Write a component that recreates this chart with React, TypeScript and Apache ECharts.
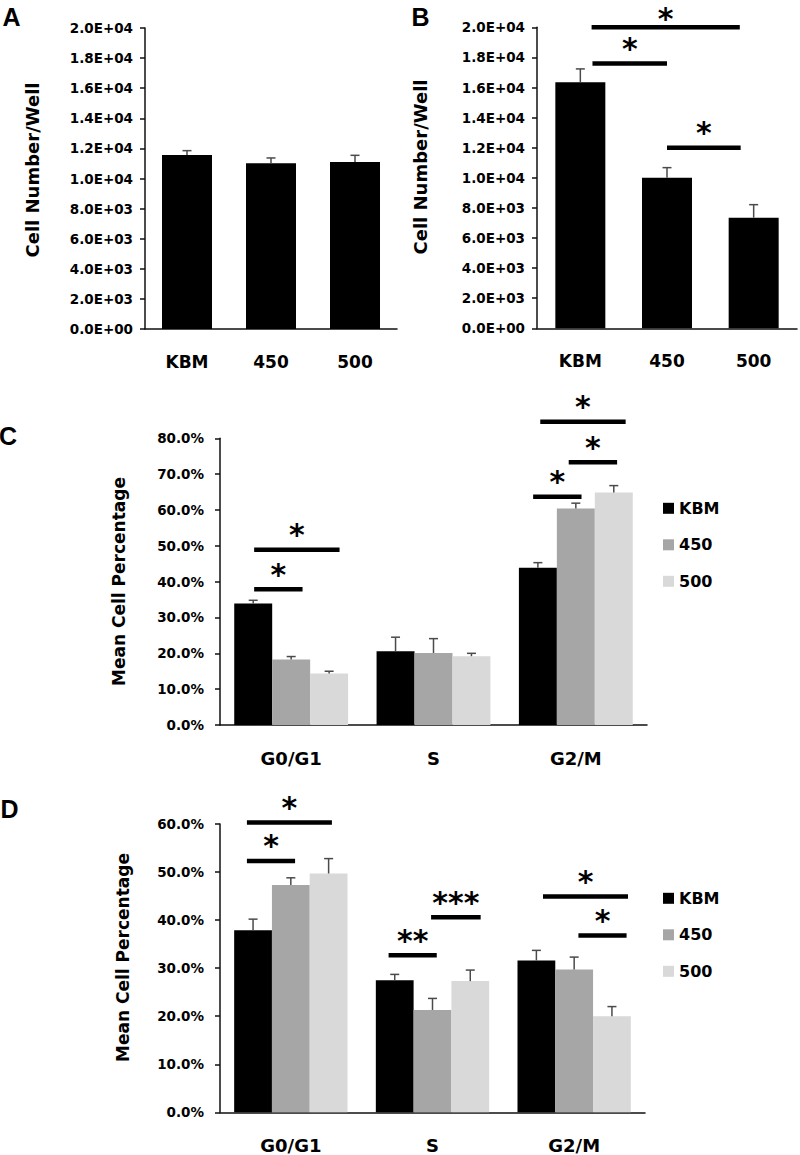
import React, { useEffect, useRef } from "react";
import * as echarts from "echarts";

// ---------- data ----------
const groupsAB = ["KBM", "450", "500"];
const phases = ["G0/G1", "S", "G2/M"];
const seriesNames = ["KBM", "450", "500"];
const barColors = ["#000000", "#a6a6a6", "#d9d9d9"];

const aValues = [11560, 11010, 11100];
const aErrors = [290, 355, 440];
const bValues = [16350, 10010, 7350];
const bErrors = [885, 665, 865];

const cKBM = [33.9, 20.6, 43.9];
const cKBMErr = [0.9, 3.9, 1.4];
const c450 = [18.3, 20.1, 60.4];
const c450Err = [0.8, 4.0, 1.5];
const c500 = [14.4, 19.2, 64.9];
const c500Err = [0.6, 0.8, 1.9];

const dKBM = [37.9, 27.5, 31.6];
const dKBMErr = [2.3, 1.2, 2.1];
const d450 = [47.3, 21.3, 29.7];
const d450Err = [1.5, 2.4, 2.6];
const d500 = [49.7, 27.3, 20.0];
const d500Err = [3.1, 2.3, 2.0];

// significance brackets: [from, to] in category widths from the first category centre, level, label
const bSig: [number, number, number, string][] = [
  [0.13, 1.84, 20000, "*"],
  [0.14, 1.0, 17600, "*"],
  [1.0, 1.85, 12000, "*"],
];
const cSig: [number, number, number, string][] = [
  [-0.26, 0.08, 37.9, "*"],
  [-0.26, 0.34, 48.9, "*"],
  [1.7, 2.04, 63.7, "*"],
  [1.95, 2.29, 73.3, "*"],
  [1.75, 2.35, 84.6, "*"],
];
const dSig: [number, number, number, string][] = [
  [-0.31, 0.03, 52.3, "*"],
  [-0.31, 0.29, 60.3, "*"],
  [0.69, 1.03, 32.7, "**"],
  [0.99, 1.34, 40.6, "***"],
  [1.78, 2.38, 44.9, "*"],
  [2.03, 2.37, 36.8, "*"],
];

// ---------- styles ----------
const FONT = "DejaVu Sans";
const AXIS_COLOR = "#111";
const ERR_COLOR = "#4a4a4a";

function sci(v: number) {
  if (v === 0) return "0.0E+00";
  const e = Math.floor(Math.log10(v) + 1e-9);
  const m = v / Math.pow(10, e);
  return m.toFixed(1) + "E+" + String(e).padStart(2, "0");
}

function xAxis(gridIndex: number, data: string[], fontSize: number) {
  return {
    type: "category",
    gridIndex,
    data,
    axisLine: { lineStyle: { color: AXIS_COLOR, width: 1.5 } },
    axisTick: { show: false },
    axisLabel: { fontFamily: FONT, fontWeight: "bold", fontSize, color: "#000", margin: 24 },
  };
}

function yAxis(gridIndex: number, max: number, interval: number, formatter: (v: number) => string, margin: number) {
  return {
    type: "value",
    gridIndex,
    min: 0,
    max,
    interval,
    splitLine: { show: false },
    axisLine: { show: true, lineStyle: { color: AXIS_COLOR, width: 1.5 } },
    axisTick: { show: true, length: 5, lineStyle: { color: AXIS_COLOR, width: 1.5 } },
    axisLabel: { fontFamily: FONT, fontWeight: "bold", fontSize: 13.5, color: "#000", margin, formatter },
  };
}

function errorSeries(axisIndex: number, values: number[], errs: number[], k: number, n: number, groupFrac: number) {
  return {
    type: "custom",
    xAxisIndex: axisIndex,
    yAxisIndex: axisIndex,
    silent: true,
    clip: false,
    z: 5,
    data: values.map((v, i) => [i, v]),
    renderItem: (params: any, api: any) => {
      const i = params.dataIndex;
      const v = values[i];
      const base = api.coord([i, v]);
      const top = api.coord([i, v + errs[i]]);
      const bw = api.size([1, 0])[0];
      const barW = (bw * groupFrac) / n;
      const x = base[0] + (k - (n - 1) / 2) * barW;
      const st = { stroke: ERR_COLOR, lineWidth: 1.5 };
      return {
        type: "group",
        children: [
          { type: "line", shape: { x1: x, y1: base[1], x2: x, y2: top[1] }, style: st },
          { type: "line", shape: { x1: x - 4.5, y1: top[1], x2: x + 4.5, y2: top[1] }, style: st },
        ],
      };
    },
  };
}

function sigSeries(axisIndex: number, list: [number, number, number, string][]) {
  return {
    type: "custom",
    xAxisIndex: axisIndex,
    yAxisIndex: axisIndex,
    silent: true,
    clip: false,
    z: 6,
    data: list.map((s) => [0, s[2]]),
    renderItem: (params: any, api: any) => {
      const s = list[params.dataIndex];
      const c0 = api.coord([0, s[2]]);
      const bw = api.size([1, 0])[0];
      const x1 = c0[0] + s[0] * bw;
      const x2 = c0[0] + s[1] * bw;
      const y = c0[1];
      // keep the star's text box inside the canvas
      const ty = Math.max(y - 15, 18);
      return {
        type: "group",
        children: [
          { type: "line", shape: { x1, y1: y, x2, y2: y }, style: { stroke: "#000", lineWidth: 4.5 } },
          {
            type: "text",
            x: (x1 + x2) / 2,
            y: ty,
            style: {
              text: s[3],
              fill: "#000",
              fontFamily: FONT,
              fontWeight: "bold",
              fontSize: 30,
              lineHeight: 14,
              align: "center",
              verticalAlign: "middle",
            },
          },
        ],
      };
    },
  };
}

function groupedBars(axisIndex: number, lists: number[][]) {
  return lists.map((vals, k) => ({
    type: "bar",
    name: seriesNames[k],
    xAxisIndex: axisIndex,
    yAxisIndex: axisIndex,
    data: vals,
    barGap: "0%",
    barCategoryGap: "20%",
    itemStyle: { color: barColors[k] },
    z: 2,
  }));
}

function legend(top: number) {
  return {
    data: seriesNames,
    orient: "vertical",
    left: 658,
    top,
    padding: 5,
    icon: "rect",
    itemWidth: 11,
    itemHeight: 11,
    itemGap: 20.5,
    selectedMode: false,
    textStyle: { fontFamily: FONT, fontWeight: "bold", fontSize: 16, color: "#000", lineHeight: 16 },
  };
}

function letter(text: string, x: number, y: number) {
  return {
    type: "text",
    x,
    y,
    style: {
      text,
      fill: "#000",
      font: 'bold 25px "Liberation Sans"',
      align: "center",
      verticalAlign: "middle",
      textAlign: "center",
      textVerticalAlign: "middle",
    },
  };
}

function yTitle(text: string, x: number, y: number, size: number) {
  return {
    type: "text",
    x,
    y,
    rotation: Math.PI / 2,
    style: {
      text,
      fill: "#000",
      font: `bold ${size}px "${FONT}"`,
      align: "center",
      verticalAlign: "middle",
      textAlign: "center",
      textVerticalAlign: "middle",
    },
  };
}

const pct = (v: number) => v.toFixed(1) + "%";

const option: any = {
  animation: false,
  backgroundColor: "#fff",
  grid: [
    { left: 145, top: 28, width: 252, height: 301 },
    { left: 537, top: 27.3, width: 260, height: 301 },
    { left: 220, top: 438.3, width: 427, height: 286.7 },
    { left: 220, top: 824, width: 425, height: 288.3 },
  ],
  xAxis: [xAxis(0, groupsAB, 17), xAxis(1, groupsAB, 17), xAxis(2, phases, 18), xAxis(3, phases, 18)],
  yAxis: [
    yAxis(0, 20000, 2000, sci, 12),
    yAxis(1, 20000, 2000, sci, 12),
    yAxis(2, 80, 10, pct, 16),
    yAxis(3, 60, 10, pct, 16),
  ],
  legend: [legend(495.3), legend(885.3)],
  graphic: [
    letter("A", 11.5, 17),
    letter("B", 420.5, 17),
    letter("C", 8, 436),
    letter("D", 9.5, 809),
    yTitle("Cell Number/Well", 32, 170, 18),
    yTitle("Cell Number/Well", 420, 167, 18),
    yTitle("Mean Cell Percentage", 119, 581.5, 17),
    yTitle("Mean Cell Percentage", 123, 957.5, 17),
  ],
  series: [
    { type: "bar", name: "A", xAxisIndex: 0, yAxisIndex: 0, data: aValues, barWidth: 50, itemStyle: { color: "#000" } },
    errorSeries(0, aValues, aErrors, 0, 1, 1),
    { type: "bar", name: "B", xAxisIndex: 1, yAxisIndex: 1, data: bValues, barWidth: 50, itemStyle: { color: "#000" } },
    errorSeries(1, bValues, bErrors, 0, 1, 1),
    sigSeries(1, bSig),
    ...groupedBars(2, [cKBM, c450, c500]),
    errorSeries(2, cKBM, cKBMErr, 0, 3, 0.8),
    errorSeries(2, c450, c450Err, 1, 3, 0.8),
    errorSeries(2, c500, c500Err, 2, 3, 0.8),
    sigSeries(2, cSig),
    ...groupedBars(3, [dKBM, d450, d500]),
    errorSeries(3, dKBM, dKBMErr, 0, 3, 0.8),
    errorSeries(3, d450, d450Err, 1, 3, 0.8),
    errorSeries(3, d500, d500Err, 2, 3, 0.8),
    sigSeries(3, dSig),
  ],
};

export default function App() {
  const ref = useRef<HTMLDivElement>(null);
  useEffect(() => {
    const chart = echarts.init(ref.current!, null, { renderer: "svg" });
    chart.setOption(option);
    return () => chart.dispose();
  }, []);
  return (
    <div
      ref={ref}
      style={{ position: "absolute", left: 0, top: 0, width: 800, height: 1155, background: "#fff" }}
    />
  );
}
